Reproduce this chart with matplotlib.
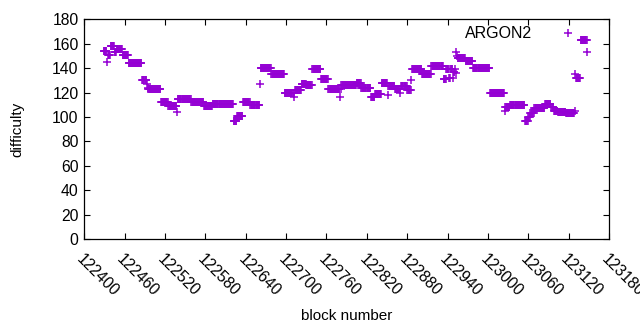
import numpy as np
import matplotlib
matplotlib.use('Agg')
import matplotlib.pyplot as plt

# Difficulty per block, read off the chart as runs of equal value
# (first block of run, number of blocks, difficulty)
run_start = [122429, 122434, 122435, 122439, 122445, 122448, 122457, 122466,
             122486, 122493, 122494, 122495, 122514, 122525, 122538, 122539,
             122559, 122578, 122591, 122622, 122627, 122636, 122647, 122661,
             122662, 122678, 122698, 122712, 122713, 122723, 122730, 122739,
             122752, 122763, 122780, 122781, 122782, 122805, 122812, 122826,
             122832, 122842, 122851, 122852, 122862, 122870, 122871, 122880,
             122886, 122887, 122902, 122916, 122934, 122938, 122942, 122944,
             122948, 122949, 122951, 122952, 122953, 122954, 122955, 122967,
             122978, 123003, 123025, 123026, 123033, 123055, 123060, 123063,
             123069, 123085, 123094, 123098, 123104, 123116, 123129, 123130,
             123131, 123138, 123148]
run_len = [5, 1, 4, 6, 3, 9, 9, 20,
           7, 1, 1, 19, 11, 13, 1, 20,
           19, 13, 31, 5, 9, 11, 14, 1,
           16, 20, 14, 1, 10, 7, 9, 13,
           11, 17, 1, 1, 23, 7, 14, 6,
           10, 9, 1, 10, 8, 1, 9, 6,
           1, 15, 14, 18, 4, 4, 2, 4,
           1, 2, 1, 1, 1, 1, 12, 11,
           25, 22, 1, 7, 22, 5, 3, 6,
           16, 9, 4, 6, 12, 13, 1, 1,
           7, 10, 1]
run_value = [154, 145, 151, 158, 153, 156, 151, 144,
             130, 127, 124, 123, 112, 109, 104, 115,
             112, 109, 111, 97, 101, 112, 110, 127,
             140, 135, 120, 116, 122, 127, 126, 139,
             131, 123, 116, 123, 126, 128, 124, 116,
             119, 128, 118, 125, 123, 120, 125, 122,
             130, 139, 135, 142, 131, 139, 132, 139,
             132, 137, 139, 136, 153, 150, 148, 146,
             140, 120, 105, 108, 110, 97, 100, 103,
             107, 111, 108, 105, 104, 103, 105, 135,
             132, 163, 153]

x_ticks = np.arange(122400, 123181, 60)
y_ticks = np.arange(0, 181, 20)

blocks = np.concatenate([np.arange(s, s + n) for s, n in zip(run_start, run_len)])
difficulty = np.repeat(run_value, run_len)

plt.rcParams['font.family'] = ['Liberation Sans', 'DejaVu Sans']
plt.rcParams['font.size'] = 11

fig = plt.figure(figsize=(6.4, 3.3), dpi=100)
ax = fig.add_axes([0.1317, 0.2758, 0.8199, 0.6657])

ax.plot(blocks, difficulty, linestyle='none', marker='+', color='#9400D3',
        markersize=5.2, markeredgewidth=1.1, label='ARGON2')

ax.set_xlim(122400, 123180)
ax.set_ylim(0, 180)
ax.set_xticks(x_ticks)
ax.set_yticks(y_ticks)
ax.set_xticklabels([str(t) for t in x_ticks], rotation=-45, ha='left',
                   va='top', rotation_mode='anchor')
ax.tick_params(direction='in', length=4.5, width=0.8, top=True, right=True,
               labelsize=11.3)
ax.tick_params(axis='x', pad=9)
ax.tick_params(axis='y', pad=4)
for sp in ax.spines.values():
    sp.set_linewidth(0.9)

ax.set_xlabel('block number', fontsize=11, labelpad=7)
ax.set_ylabel('difficulty', fontsize=11, labelpad=20)

ax.legend(loc='upper right', bbox_to_anchor=(0.953, 0.968), frameon=False,
          markerfirst=False, numpoints=1, handlelength=2.0,
          handletextpad=1.3, borderpad=0, borderaxespad=0, fontsize=11.5)

fig.savefig('out.png', dpi=100)
